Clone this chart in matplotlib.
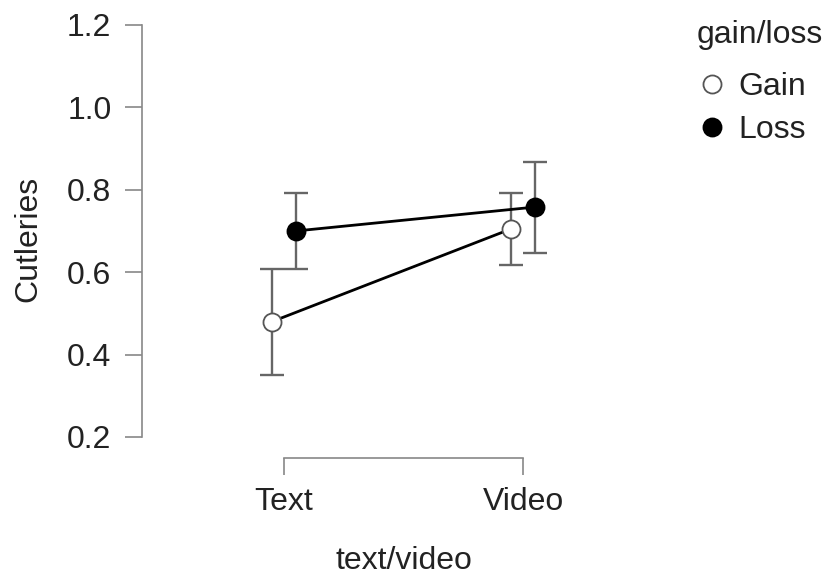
import matplotlib
matplotlib.use('Agg')
import matplotlib.pyplot as plt
from matplotlib.lines import Line2D
import numpy as np

plt.rcParams['font.family'] = ['Liberation Sans', 'DejaVu Sans']

# descriptives: means and 95% CI bounds per condition
categories = ['Text', 'Video']
groups = ['Gain', 'Loss']
means = {'Gain': [0.48, 0.705], 'Loss': [0.70, 0.758]}
lower = {'Gain': [0.35, 0.617], 'Loss': [0.608, 0.647]}
upper = {'Gain': [0.608, 0.792], 'Loss': [0.793, 0.868]}
yticks = [0.2, 0.4, 0.6, 0.8, 1.0, 1.2]

FS = 23
TXT = '#222222'

fig = plt.figure(figsize=(8.35, 5.78), dpi=100)
ax = fig.add_axes([142/835, 1 - 458/578, (665 - 142)/835, (458 - 20)/578])

x = np.arange(len(categories))
dodge = {'Gain': -0.05, 'Loss': 0.05}
face = {'Gain': 'white', 'Loss': 'black'}
edge = {'Gain': '#555555', 'Loss': 'black'}

for g in groups:
    xs = x + dodge[g]
    m = np.array(means[g])
    err = np.array([m - np.array(lower[g]), np.array(upper[g]) - m])
    ax.errorbar(xs, m, yerr=err, fmt='none', ecolor='#666666',
                elinewidth=1.7, capsize=8.6, capthick=1.7, zorder=1)
    ax.plot(xs, m, color='black', linewidth=2.0, zorder=2)
    ax.plot(xs, m, linestyle='none', marker='o', markersize=13,
            markerfacecolor=face[g], markeredgecolor=edge[g],
            markeredgewidth=1.3, zorder=3)

ax.set_xlim(-0.594, 1.594)
ax.set_ylim(0.149, 1.212)
ax.set_xticks(x)
ax.set_xticklabels(categories)
ax.set_yticks(yticks)
ax.set_yticklabels([f'{t:.1f}' for t in yticks])

for s in ['top', 'right']:
    ax.spines[s].set_visible(False)
ax.spines['left'].set_bounds(0.2, 1.2)
ax.spines['bottom'].set_bounds(0, 1)
for s in ['left', 'bottom']:
    ax.spines[s].set_color('#888888')
    ax.spines[s].set_linewidth(1.2)

ax.tick_params(axis='both', direction='out', length=12, width=1.2,
               color='#888888', labelsize=FS, labelcolor=TXT)
ax.tick_params(axis='y', pad=10)
ax.tick_params(axis='x', pad=9)

ax.set_xlabel('text/video', fontsize=FS, color=TXT, labelpad=21)
ax.set_ylabel('Cutleries', fontsize=FS, color=TXT, labelpad=17)

# legend: title drawn separately so the row spacing can be set freely
fig.text(697/835, 1 - 35/578, 'gain/loss', fontsize=FS, color=TXT,
         ha='left', va='center')
handles = [Line2D([], [], linestyle='none', marker='o', markersize=13,
                  markerfacecolor=face[g], markeredgecolor=edge[g],
                  markeredgewidth=1.3) for g in groups]
leg = fig.legend(handles, groups, loc='upper left',
                 bbox_to_anchor=(699/835, 1 - 72/578), frameon=False,
                 fontsize=FS, handlelength=0.8, handletextpad=0.42,
                 labelspacing=0.42, borderaxespad=0, borderpad=0)
for t in leg.get_texts():
    t.set_color(TXT)

fig.savefig('out.png', dpi=100)
